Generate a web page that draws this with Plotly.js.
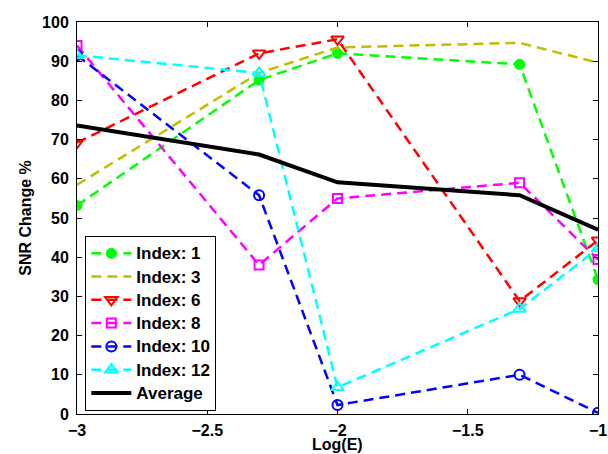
<!DOCTYPE html>
<html>
<head>
<meta charset="utf-8">
<script src="https://cdn.plot.ly/plotly-3.0.1.min.js"></script>
<style>html,body{margin:0;padding:0;background:#fff}#chart{width:608px;height:454px}</style>
</head>
<body>
<div id="chart"></div>
<script>
const logE = [-3, -2.301, -2, -1.301, -1];
const index1 = [53.2, 85.2, 92.0, 89.2, 34.3];
const index3 = [58.5, 87.0, 93.5, 94.7, 89.6];
const index6 = [69.2, 92.0, 95.6, 28.8, 44.3];
const index8 = [94.0, 38.0, 55.0, 59.0, 39.4];
const index10 = [91.5, 55.8, 2.3, 10.0, 0.3];
const index12 = [91.5, 87.0, 6.8, 26.8, 42.2];
const average = [73.6, 66.2, 59.1, 55.8, 47.0];
const names = ["Index: 1", "Index: 3", "Index: 6", "Index: 8", "Index: 10", "Index: 12", "Average"];
const xTickVals = [-3, -2.5, -2, -1.5, -1];
const xTickText = ["\u22123", "\u22122.5", "\u22122", "\u22121.5", "\u22121"];

const dash = "10px,6px";
function tr(y, name, color, symbol, msize, lineDash, lw) {
  const t = {
    x: logE, y: y, name: '<span style="font-size:17px">' + name + '</span>', type: "scatter",
    mode: symbol ? "lines+markers" : "lines",
    line: {color: color, width: lw, dash: lineDash}
  };
  if (symbol) t.marker = {symbol: symbol, size: msize, color: color, line: {color: color, width: 2}};
  return t;
}
const data = [
  tr(index1, names[0], "#00ff00", "circle", 9, dash, 2.5),
  tr(index3, names[1], "#bfbf00", null, 0, dash, 2.5),
  tr(index6, names[2], "#ff0000", "triangle-down-open", 11, dash, 2.5),
  tr(index8, names[3], "#ff00ff", "square-open", 9, dash, 2.5),
  tr(index10, names[4], "#0000ff", "circle-open", 10, dash, 2.5),
  tr(index12, names[5], "#00ffff", "triangle-up-open", 11, dash, 2.5),
  tr(average, names[6], "#000000", null, 0, "solid", 4)
];
const font = {family: "Liberation Sans, Arial, sans-serif", size: 16, color: "#000", weight: "bold"};
const layout = {
  width: 608, height: 454,
  margin: {l: 77, r: 10, t: 22, b: 40},
  paper_bgcolor: "#fff", plot_bgcolor: "#fff",
  font: font,
  showlegend: true,
  legend: {x: 0.016, y: 0.455, xanchor: "left", yanchor: "top",
    bordercolor: "#000", borderwidth: 1, bgcolor: "#fff",
    font: {family: font.family, size: 15.6, color: "#000", weight: "bold"},
    itemwidth: 40, tracegroupgap: 0},
  xaxis: {range: [-3, -1], tickvals: xTickVals, ticktext: xTickText,
    showgrid: false, zeroline: false, showline: true, linecolor: "#000", linewidth: 1,
    mirror: "ticks", ticks: "inside", ticklen: 5, tickcolor: "#000", ticklabelstandoff: 2},
  yaxis: {range: [0, 100], dtick: 10, showgrid: false, zeroline: false,
    showline: true, linecolor: "#000", linewidth: 1,
    mirror: "ticks", ticks: "inside", ticklen: 5, tickcolor: "#000", ticklabelstandoff: 4,
    title: {text: "SNR Change %", standoff: 6, font: {size: 16, weight: "bold"}}},
  annotations: [{text: "Log(E)", xref: "paper", yref: "paper", x: 0.5, y: -0.077,
    xanchor: "center", yanchor: "middle", showarrow: false,
    font: {family: font.family, size: 16, color: "#000", weight: "bold"}}]
};
Plotly.newPlot("chart", data, layout, {displayModeBar: false, staticPlot: true});
</script>
</body>
</html>
